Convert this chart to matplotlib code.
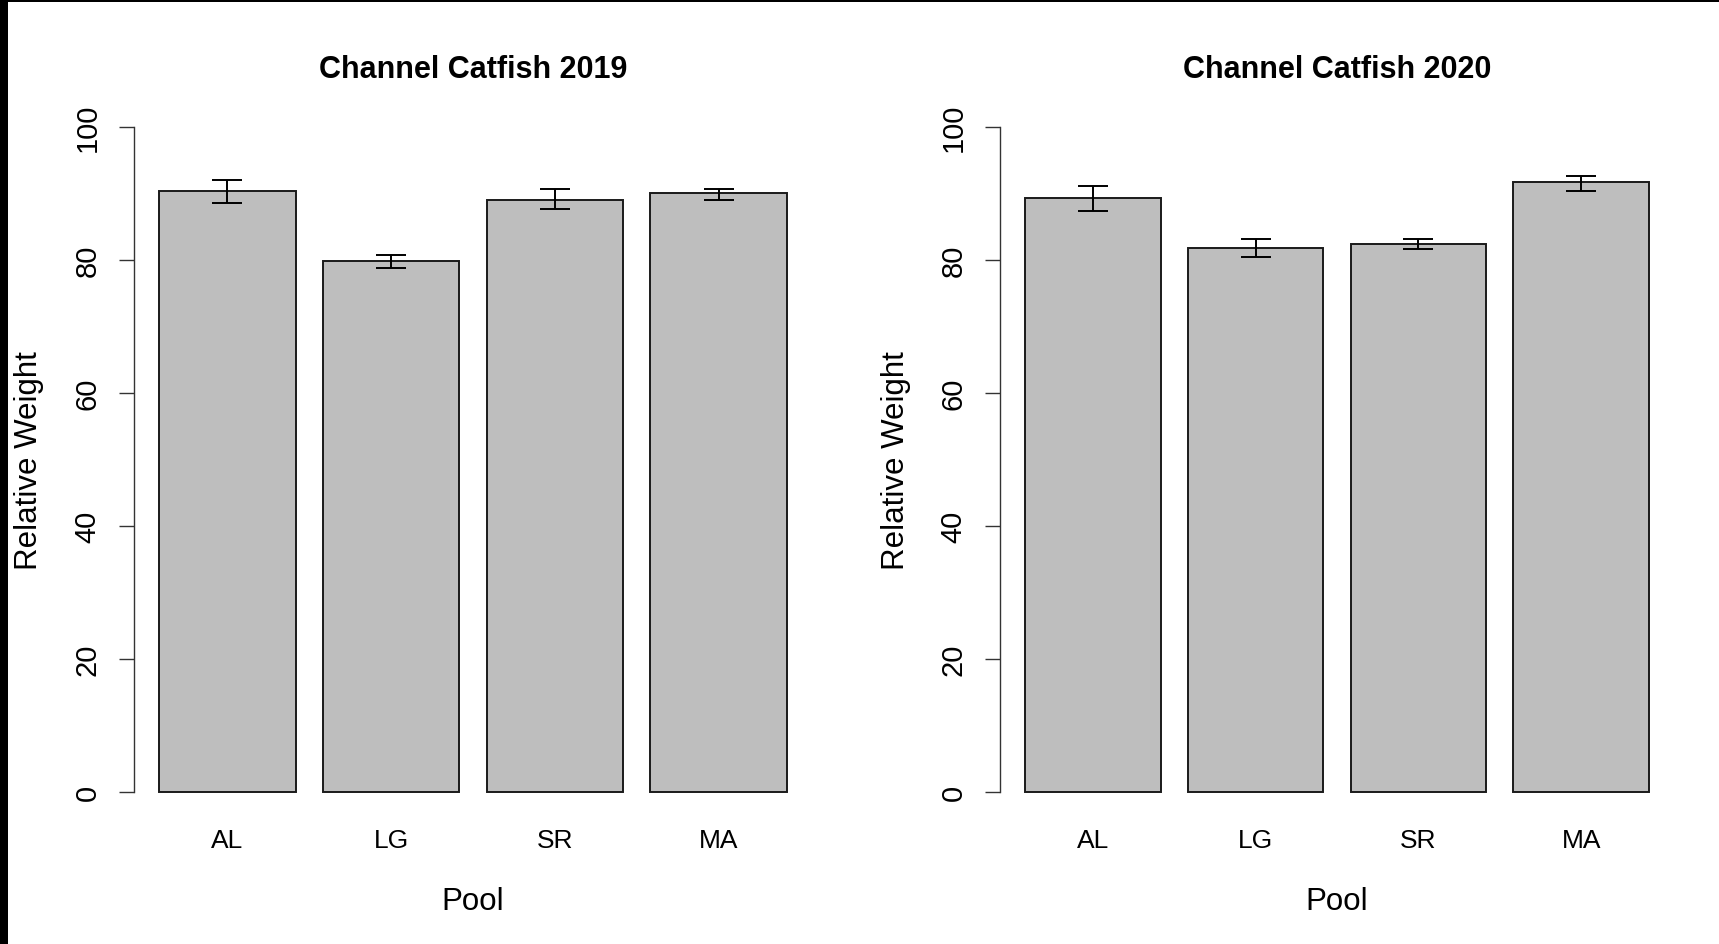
import numpy as np
import matplotlib
matplotlib.use("Agg")
import matplotlib.pyplot as plt
from matplotlib.patches import Rectangle

plt.rcParams["font.family"] = ["Liberation Sans", "DejaVu Sans"]

pools = ["AL", "LG", "SR", "MA"]

wr_2019 = [90.45, 79.8, 89.05, 90.05]
lo_2019 = [88.55, 78.85, 87.6, 89.0]
hi_2019 = [92.1, 80.75, 90.7, 90.75]

wr_2020 = [89.3, 81.75, 82.45, 91.7]
lo_2020 = [87.35, 80.45, 81.7, 90.45]
hi_2020 = [91.2, 83.2, 83.2, 92.7]

W, H = 1719, 945
fig = plt.figure(figsize=(W / 100, H / 100), dpi=100)


def px_axes(x0, x1, ytop, ybot):
    return fig.add_axes([x0 / W, (H - ybot) / H, (x1 - x0) / W, (ybot - ytop) / H])


def draw_panel(ax, vals, lo, hi, title):
    x = 0.7 + 1.2 * np.arange(len(vals))
    ax.bar(x, vals, width=1.0, color="#bebebe", edgecolor="#1a1a1a",
           linewidth=1.4, clip_on=False, zorder=2)
    vals = np.array(vals)
    yerr = [vals - np.array(lo), np.array(hi) - vals]
    ax.errorbar(x, vals, yerr=yerr, fmt="none", ecolor="black",
                elinewidth=1.4, capsize=11, capthick=1.4, zorder=3)
    ax.set_xlim(0.016, 4.984)
    ax.set_ylim(0, 100)
    for s in ["top", "right", "bottom"]:
        ax.spines[s].set_visible(False)
    ax.spines["left"].set_color("#333333")
    ax.spines["left"].set_linewidth(1.0)
    ax.set_yticks([0, 20, 40, 60, 80, 100])
    ax.tick_params(axis="y", length=10.8, width=1.0, color="#333333",
                   pad=12.5, labelsize=21, labelrotation=90)
    for lab in ax.get_yticklabels():
        lab.set_va("center")
    ax.set_xticks(x)
    ax.set_xticklabels(pools)
    ax.tick_params(axis="x", length=0, pad=26, labelsize=19)
    ax.set_title(title, fontsize=22, fontweight="bold", y=1.0865, va="center", pad=0)
    ax.set_xlabel("Pool", fontsize=22.5)
    ax.xaxis.set_label_coords(0.5, -0.164)
    ax.xaxis.label.set_va("center")
    ax.set_ylabel("Relative Weight", fontsize=22.5)
    ax.yaxis.set_label_coords(-0.155, 0.5)
    ax.yaxis.label.set_va("center")


ax1 = px_axes(134, 812, 128, 793)
draw_panel(ax1, wr_2019, lo_2019, hi_2019, "Channel Catfish 2019")

ax2 = px_axes(1000, 1674, 128, 793)
draw_panel(ax2, wr_2020, lo_2020, hi_2020, "Channel Catfish 2020")

# black frame strips seen at top and left of the original screenshot
fig.patches.append(Rectangle((0, 0), 8 / W, 1, transform=fig.transFigure,
                             facecolor="black", edgecolor="none", zorder=10))
fig.patches.append(Rectangle((0, 1 - 3 / H), 1, 3 / H, transform=fig.transFigure,
                             facecolor="black", edgecolor="none", zorder=10))

fig.savefig("out.png", dpi=100)
